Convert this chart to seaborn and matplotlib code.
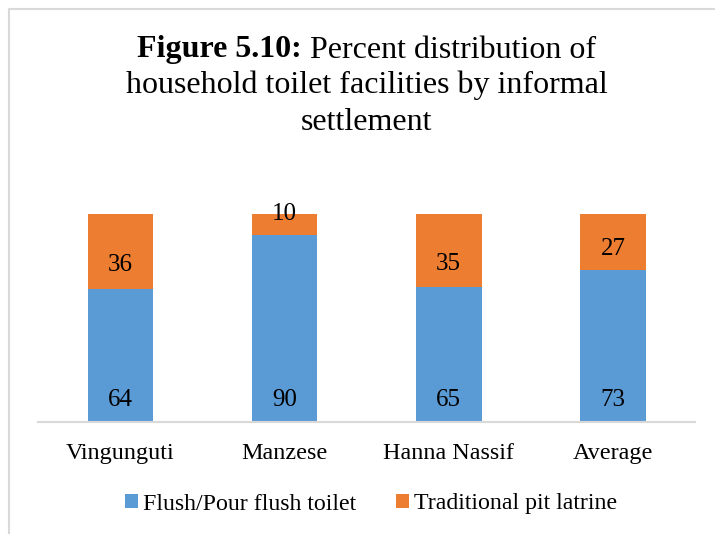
import matplotlib
matplotlib.use("Agg")
import matplotlib.pyplot as plt
import seaborn as sns
import pandas as pd
from matplotlib.patches import Patch
from matplotlib.lines import Line2D

categories = ["Vingunguti", "Manzese", "Hanna Nassif", "Average"]
flush = [64, 90, 65, 73]
pit = [36, 10, 35, 27]
series_names = ["Flush/Pour flush toilet", "Traditional pit latrine"]

BLUE = "#5B9BD5"
ORANGE = "#ED7D31"
GRAY = "#D9D9D9"
FONT = "Liberation Serif"

sns.set_theme(style="white")
plt.rcParams["font.family"] = [FONT, "DejaVu Serif"]
plt.rcParams["text.color"] = "black"

W, H = 715, 534
fig = plt.figure(figsize=(W / 100, H / 100), dpi=100)
ax = fig.add_axes([38.3 / W, (H - 421.7) / H, 656.7 / W, 207.7 / H])

df = pd.DataFrame({"cat": categories, "flush": flush, "pit": pit})
df["total"] = df["flush"] + df["pit"]

sns.barplot(data=df, x="cat", y="total", color=ORANGE, width=0.4, ax=ax,
            saturation=1, edgecolor="none")
sns.barplot(data=df, x="cat", y="flush", color=BLUE, width=0.4, ax=ax,
            saturation=1, edgecolor="none")

ax.set_xlim(-0.5, 3.5)
ax.set_ylim(0, 100)
ax.set_xlabel("")
ax.set_ylabel("")
ax.set_yticks([])
for s in ["top", "right", "left"]:
    ax.spines[s].set_visible(False)
ax.spines["bottom"].set_color(GRAY)
ax.spines["bottom"].set_linewidth(1.5)
ax.tick_params(axis="x", length=0, pad=15, labelsize=17.4, labelcolor="black")
for t in ax.get_xticklabels():
    t.set_fontfamily(FONT)

# data labels
LSIZE = 18
pit_offsets = [-8.3, 9, -8.3, -2.9]  # points, manual nudges as in the original
for i, (f, p) in enumerate(zip(flush, pit)):
    ax.annotate(str(f), (i, 0), xytext=(0, 17.6), textcoords="offset points",
                ha="center", va="center_baseline", fontsize=LSIZE, family=FONT,
                color="black")
    ax.annotate(str(p), (i, f + p / 2), xytext=(0, pit_offsets[i]),
                textcoords="offset points", ha="center", va="center_baseline",
                fontsize=LSIZE, family=FONT, color="black", annotation_clip=False)

# title with bold prefix
fig.canvas.draw()
r = fig.canvas.get_renderer()
cx = 366.4 / W
tsize = 23
bold = fig.text(0, 0, "Figure 5.10:", fontsize=tsize, fontweight="bold", family=FONT)
rest = fig.text(0, 0, " Percent distribution of", fontsize=tsize, family=FONT)
wb = bold.get_window_extent(r).width / W
wr = rest.get_window_extent(r).width / W
x0 = cx - (wb + wr) / 2
y1 = (H - 57.5) / H
bold.set_position((x0, y1)); bold.set_va("baseline")
rest.set_position((x0 + wb, y1)); rest.set_va("baseline")
fig.text(cx, (H - 93.5) / H, "household toilet facilities by informal",
         fontsize=tsize, family=FONT, ha="center", va="baseline")
fig.text(cx, (H - 130) / H, "settlement", fontsize=tsize, family=FONT,
         ha="center", va="baseline")

handles = [Patch(facecolor=BLUE, edgecolor="none"), Patch(facecolor=ORANGE, edgecolor="none")]
fig.legend(handles, series_names, loc="center", bbox_to_anchor=(371 / W, (H - 504) / H),
           ncol=2, frameon=False, prop={"family": FONT, "size": 17.2},
           handlelength=0.55, handleheight=0.55, handletextpad=0.2, columnspacing=1.7,
           borderpad=0, borderaxespad=0)

# figure frame (partial, as in the cropped original)
fig.add_artist(Line2D([9 / W, 9 / W, 1], [0, (H - 8.5) / H, (H - 8.5) / H],
                      transform=fig.transFigure, color=GRAY, linewidth=1.5))

fig.savefig("out.png", dpi=100)
